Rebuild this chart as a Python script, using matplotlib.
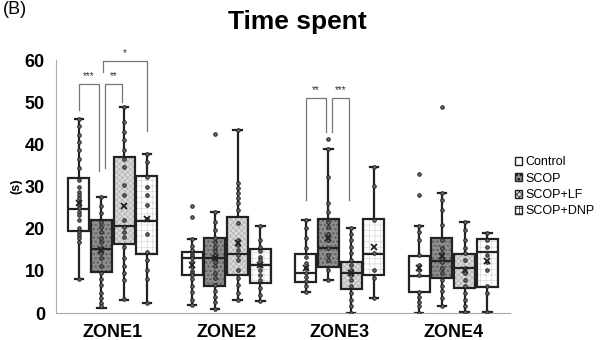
import matplotlib
matplotlib.use("Agg")
from matplotlib import pyplot as plt
from matplotlib import patches
import numpy as np

plt.rcParams['font.family'] = ['Liberation Sans', 'DejaVu Sans']
plt.rcParams['hatch.linewidth'] = 0.5

zones = ["ZONE1", "ZONE2", "ZONE3", "ZONE4"]
groups = ["Control", "SCOP", "SCOP+LF", "SCOP+DNP"]

# box stats: (whislo, q1, med, q3, whishi, mean)
stats_ctrl = [(8.0, 19.4, 24.6, 31.9, 46.1, 26.0), (1.9, 9.0, 13.0, 14.4, 17.5, 11.5),
              (4.9, 7.4, 9.4, 13.9, 22.0, 10.7), (0.1, 4.9, 8.8, 13.6, 20.7, 10.7)]
stats_scop = [(1.3, 9.8, 15.1, 22.0, 27.6, 15.0), (0.9, 6.5, 13.0, 17.7, 23.9, 13.0),
              (7.8, 11.0, 15.3, 22.3, 38.9, 17.9), (1.7, 8.4, 12.4, 17.7, 28.4, 13.5)]
stats_lf = [(3.2, 16.3, 20.7, 36.9, 48.9, 25.4), (3.2, 9.0, 14.1, 22.8, 43.4, 16.5),
            (0.1, 5.6, 9.4, 12.2, 20.1, 9.6), (0.3, 5.9, 10.6, 14.1, 21.6, 10.2)]
stats_dnp = [(2.3, 14.1, 21.8, 32.5, 37.7, 22.3), (2.8, 7.2, 11.4, 15.1, 20.7, 11.4),
             (3.5, 9.0, 13.9, 22.3, 34.7, 15.6), (0.3, 6.1, 14.5, 17.5, 18.9, 12.3)]

# outliers per zone
fl_ctrl = [[], [25.4, 22.8], [], [32.9, 28.1]]
fl_scop = [[], [42.4], [41.3], [48.9]]
fl_lf = [[], [], [], []]
fl_dnp = [[], [], [], []]

# individual data points
pts_ctrl = [
    [46.1, 44.3, 42.3, 40.6, 38.6, 36.6, 34.3, 31.5, 29.9, 28.7, 27.9, 27.2, 26.4, 25.6,
     24.8, 24.0, 23.2, 22.0, 20.1, 19.3, 18.5, 17.7, 16.9, 8.0],
    [17.5, 16.0, 15.0, 14.0, 13.5, 13.0, 12.0, 11.0, 10.0, 9.5, 9.0, 8.0, 6.5, 5.0, 3.0, 1.9],
    [22.0, 20.1, 17.7, 15.4, 13.4, 11.8, 10.7, 9.5, 8.5, 7.5, 6.3, 4.9],
    [20.7, 19.3, 17.4, 13.8, 11.4, 10.2, 9.0, 5.0, 3.9, 2.7, 1.6, 0.1],
]
pts_scop = [
    [27.6, 25.4, 23.7, 21.7, 20.5, 19.3, 17.7, 16.9, 15.4, 14.2, 13.0, 11.1, 9.5, 8.0,
     6.7, 4.7, 3.6, 2.4, 1.6],
    [23.9, 21.7, 19.7, 17.7, 16.9, 15.7, 14.6, 13.8, 13.0, 12.2, 11.1, 9.5, 8.3, 6.7,
     5.1, 3.9, 2.7, 0.9],
    [38.9, 32.3, 26.0, 24.0, 21.7, 20.5, 18.8, 17.4, 15.4, 13.8, 12.6, 10.2, 7.9],
    [28.4, 26.8, 24.4, 20.9, 17.4, 15.4, 14.2, 13.0, 12.2, 10.6, 9.5, 7.9, 6.3, 5.1, 3.6, 1.7],
]
pts_lf = [
    [48.9, 45.3, 43.0, 41.0, 38.6, 36.6, 34.7, 30.3, 27.9, 22.0, 20.5, 19.3, 18.1, 15.7,
     13.0, 11.1, 9.5, 7.9, 3.3],
    [43.4, 30.8, 29.6, 28.4, 27.2, 26.0, 24.4, 21.3, 17.4, 16.2, 15.0, 13.8, 12.6, 10.2,
     8.3, 6.7, 4.7, 3.2],
    [20.1, 18.8, 17.4, 15.7, 14.2, 12.6, 11.4, 10.2, 9.0, 7.9, 6.3, 4.7, 3.1, 1.6, 0.1],
    [21.6, 19.7, 17.4, 15.4, 14.2, 12.6, 10.6, 9.5, 7.9, 6.3, 4.7, 3.1, 1.6, 0.3],
]
pts_dnp = [
    [37.7, 35.9, 32.3, 29.9, 27.9, 25.6, 22.4, 18.8, 14.5, 12.6, 10.2, 8.0, 2.3],
    [20.7, 17.4, 15.7, 14.6, 13.4, 12.6, 11.4, 10.2, 9.0, 7.9, 5.9, 4.3, 2.9],
    [34.7, 30.1, 22.1, 14.2, 10.2, 8.3, 3.5],
    [18.9, 17.4, 15.7, 13.8, 12.2, 10.2, 6.3, 4.7, 0.3],
]

fills = ["white", "#8f8f8f", "#dadada", "white"]
hatches = [None, "oooo", "xxxxxx", "+++"]
hatch_cols = ["white", "#6a6a6a", "#b0b0b0", "#d8d8d8"]

fig = plt.figure(figsize=(6.03, 3.40), dpi=100)
ax = fig.add_axes([0.0929, 0.0794, 0.7529, 0.7441])

all_stats = [stats_ctrl, stats_scop, stats_lf, stats_dnp]
all_fl = [fl_ctrl, fl_scop, fl_lf, fl_dnp]
all_pts = [pts_ctrl, pts_scop, pts_lf, pts_dnp]
offsets = [-0.3, -0.1, 0.1, 0.3]
width = 0.185
centers = np.arange(1, len(zones) + 1)

for g in range(len(groups)):
    bstats = []
    for z in range(len(zones)):
        lo, q1, med, q3, hi, mean = all_stats[g][z]
        bstats.append(dict(whislo=lo, q1=q1, med=med, q3=q3, whishi=hi, mean=mean,
                           fliers=all_fl[g][z]))
    pos = centers + offsets[g]
    res = ax.bxp(bstats, positions=pos, widths=width, patch_artist=True, showmeans=True,
                 showfliers=False, capwidths=width * 0.4,
                 boxprops=dict(facecolor="none", edgecolor="#222222", linewidth=1.6),
                 medianprops=dict(color="#222222", linewidth=1.6),
                 whiskerprops=dict(color="#222222", linewidth=1.6),
                 capprops=dict(color="#222222", linewidth=1.6),
                 meanprops=dict(marker="x", markeredgecolor="#222222", markersize=4.5,
                                markeredgewidth=1.3))
    for box in res["boxes"]:
        box.set_zorder(3)
        bg = patches.PathPatch(box.get_path(), facecolor=fills[g], edgecolor=hatch_cols[g],
                               hatch=hatches[g], linewidth=0, zorder=2)
        ax.add_patch(bg)
    for m in res["means"]:
        m.set_zorder(6)
    for z in range(len(zones)):
        vals = all_pts[g][z] + all_fl[g][z]
        ax.plot(np.full(len(vals), pos[z]), vals, linestyle="none", marker="o",
                markersize=2.6, markerfacecolor="#666666", markeredgecolor="#1a1a1a",
                markeredgewidth=0.6, zorder=5)

# significance brackets
sig_zone = [0, 0, 0, 2, 2]
sig_a = [0, 1, 1, 0, 1]
sig_b = [1, 2, 3, 1, 2]
sig_top = [54.4, 54.4, 59.8, 51.0, 51.0]
sig_leg_a = [48.1, 34.4, 57.2, 26.8, 43.0]
sig_leg_b = [33.7, 50.0, 43.2, 43.0, 26.8]
sig_txt = ["***", "**", "*", "**", "***"]
for i in range(len(sig_zone)):
    xa = centers[sig_zone[i]] + offsets[sig_a[i]] + (0.01 if sig_a[i] > 0 else 0)
    xb = centers[sig_zone[i]] + offsets[sig_b[i]] - (0.02 if sig_b[i] == sig_a[i] + 1 else 0)
    if sig_b[i] == sig_a[i] + 1 and sig_a[i] > 0:
        xa += 0.02
    ax.plot([xa, xa, xb, xb], [sig_leg_a[i], sig_top[i], sig_top[i], sig_leg_b[i]],
            color="#777777", linewidth=0.9, zorder=1, clip_on=False)
    ax.text((xa + xb) / 2, sig_top[i] + 0.6, sig_txt[i], ha="center", va="bottom",
            fontsize=7, color="#333333")

ax.set_xlim(0.5, 4.5)
ax.set_ylim(0, 60)
ax.set_xticks(centers)
ax.set_xticklabels(zones, fontsize=13, fontweight="bold")
ax.set_yticks(np.arange(0, 61, 10))
ax.tick_params(axis="both", length=0, labelsize=13)
for lbl in ax.get_yticklabels():
    lbl.set_fontweight("bold")
ax.tick_params(axis="x", pad=8)
ax.tick_params(axis="y", pad=8)
for s in ["top", "right"]:
    ax.spines[s].set_visible(False)
for s in ["left", "bottom"]:
    ax.spines[s].set_color("#aaaaaa")
    ax.spines[s].set_linewidth(0.8)
ax.set_ylabel("(s)", fontsize=9, fontweight="bold", labelpad=2)

fig.text(0.493, 0.935, "Time spent", ha="center", va="center", fontsize=19, fontweight="bold")
fig.text(0.005, 0.997, "(B)", ha="left", va="top", fontsize=13)

handles = []
for g in range(len(groups)):
    handles.append(patches.Patch(facecolor=fills[g], edgecolor="#222222", hatch=hatches[g],
                                 linewidth=1.0, label=groups[g]))
fig.legend(handles=handles, loc="upper left", bbox_to_anchor=(0.845, 0.555), frameon=False,
           fontsize=9, handlelength=0.6, handleheight=0.6, handletextpad=0.3,
           labelspacing=0.35, borderaxespad=0)

fig.savefig("out.png", dpi=100)
